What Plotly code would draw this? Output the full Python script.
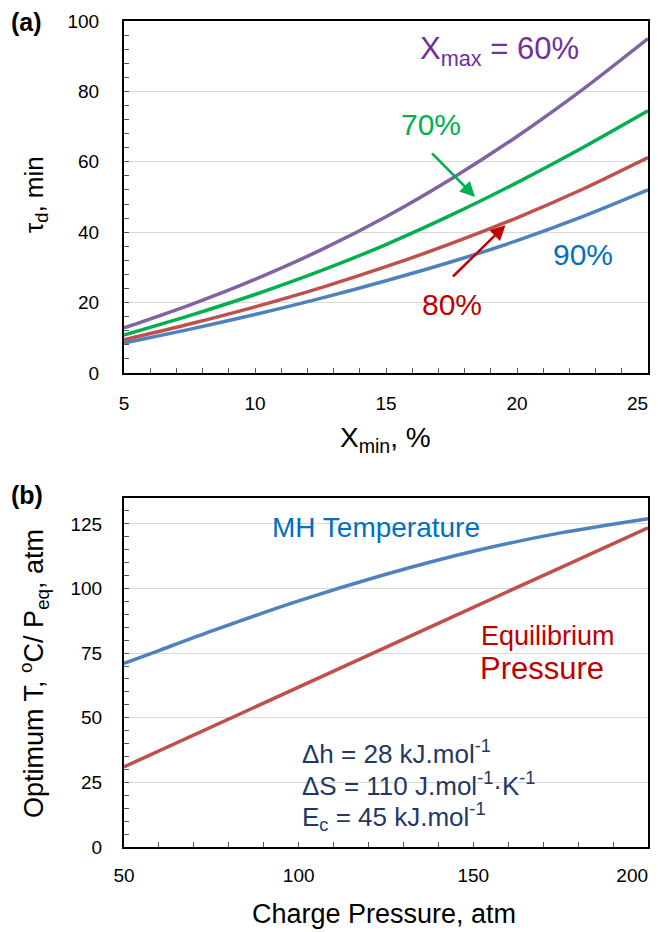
import plotly.graph_objects as go

# ---------------- data: panel (a) ----------------
xmin = [5, 7.5, 10, 12.5, 15, 17.5, 20, 22.5, 25]
tau_60 = [12.8, 19.3, 26.6, 34.9, 44.4, 55.2, 67.2, 80.5, 95.0]
tau_70 = [10.8, 16.3, 22.3, 29.0, 36.5, 44.9, 54.1, 64.0, 74.5]
tau_80 = [9.4, 13.9, 18.8, 24.2, 30.2, 36.8, 44.1, 52.2, 61.2]
tau_90 = [8.5, 12.4, 16.6, 21.2, 26.2, 31.6, 37.6, 44.4, 52.0]
a_yticks = [0, 20, 40, 60, 80, 100]
a_xticks = [5, 10, 15, 20, 25]

# ---------------- data: panel (b) ----------------
pressure = [50, 60, 75, 100, 125, 150, 175, 200]
mh_temp = [71.0, 76.0, 83.5, 95.2, 105.5, 114.4, 121.5, 127.0]
p_eq = [31.0, 37.2, 46.4, 61.8, 77.2, 92.7, 108.1, 123.5]
b_yticks = [0, 25, 50, 75, 100, 125]
b_xticks = [50, 100, 150, 200]

PURPLE, GREEN, RED, BLUE = "#8064A2", "#00B050", "#C0504D", "#4F81BD"
FONT = "Liberation Sans, Arial, sans-serif"
# the page body has an 8px default margin; the figure fills the rest of the 658x932 window
OFF = 8
W, H = 658 - OFF, 932 - OFF

def px(x):
    return (x - OFF) / W

def py(y):
    return 1 - (y - OFF) / H

def edge_labels(vals, pad):
    # last label nudged left (as in the original, where it is pulled inside the page)
    out = [str(v) for v in vals]
    out[-1] = out[-1] + "\u00a0" * pad
    return out

fig = go.Figure()
for y, c in [(tau_90, BLUE), (tau_80, RED), (tau_70, GREEN), (tau_60, PURPLE)]:
    fig.add_trace(go.Scatter(x=xmin, y=y, mode="lines", line=dict(color=c, width=3.5, shape="spline", smoothing=0.8),
                             xaxis="x", yaxis="y", showlegend=False, hoverinfo="skip"))
fig.add_trace(go.Scatter(x=pressure, y=p_eq, mode="lines", line=dict(color=RED, width=3.5),
                         xaxis="x2", yaxis="y2", showlegend=False, hoverinfo="skip"))
fig.add_trace(go.Scatter(x=pressure, y=mh_temp, mode="lines", line=dict(color=BLUE, width=3.5, shape="spline", smoothing=0.8),
                         xaxis="x2", yaxis="y2", showlegend=False, hoverinfo="skip"))

xdom = [px(124), px(648)]
ya_dom = [py(373), py(21)]
yb_dom = [py(847), py(498)]

common = dict(showline=True, linecolor="black", linewidth=2, mirror=True, ticks="inside", ticklen=5,
              tickcolor="#595959", tickfont=dict(family=FONT, size=19, color="black"), zeroline=False,
              automargin=False, ticklabeloverflow="allow")

fig.update_layout(
    width=W, height=H, margin=dict(l=0, r=0, t=0, b=0, autoexpand=False),
    paper_bgcolor="white", plot_bgcolor="white",
    font=dict(family=FONT, color="black"),
    xaxis=dict(domain=xdom, anchor="y", range=[5, 25], tickvals=a_xticks, ticktext=edge_labels(a_xticks, 4),
               showgrid=False, minor=dict(dtick=1, ticks="inside", ticklen=5, tickcolor="#595959"),
               ticklabelstandoff=12, **common),
    yaxis=dict(domain=ya_dom, anchor="x", range=[0, 100], tickvals=a_yticks, showgrid=True, gridcolor="#D9D9D9",
               minor=dict(dtick=4, ticks="inside", ticklen=5, tickcolor="#595959"),
               ticklabelstandoff=19, **common),
    xaxis2=dict(domain=xdom, anchor="y2", range=[50, 200], tickvals=b_xticks, ticktext=edge_labels(b_xticks, 6),
                showgrid=False, minor=dict(dtick=10, ticks="inside", ticklen=5, tickcolor="#595959"),
                ticklabelstandoff=10, **common),
    yaxis2=dict(domain=yb_dom, anchor="x2", range=[0, 135], tickvals=b_yticks, showgrid=True, gridcolor="#D9D9D9",
                minor=dict(dtick=5, ticks="inside", ticklen=5, tickcolor="#595959"),
                ticklabelstandoff=16, **common),
)

ann = []
def txt(x, y, s, color, size, xr="x", yr="y", bold=False, xanchor="center", angle=0):
    ann.append(dict(x=x, y=y, xref=xr, yref=yr, text=("<b>%s</b>" % s) if bold else s, showarrow=False,
                    font=dict(family=FONT, size=size, color=color), xanchor=xanchor, yanchor="middle",
                    textangle=angle))

# panel (a) labels
txt(19.35, 91.5, "X<sub>max</sub> = 60%", "#7030A0", 31)
txt(16.7, 70.5, "70%", GREEN, 30)
txt(17.5, 19.5, "80%", "#C00000", 30)
txt(22.5, 33.8, "90%", "#0070C0", 30)
ann.append(dict(x=18.4, y=50.0, ax=16.7, ay=62.8, xref="x", yref="y", axref="x", ayref="y", text="",
                showarrow=True, arrowhead=2, arrowsize=1.2, arrowwidth=2.5, arrowcolor=GREEN))
ann.append(dict(x=19.56, y=42.0, ax=17.5, ay=27.0, xref="x", yref="y", axref="x", ayref="y", text="",
                showarrow=True, arrowhead=2, arrowsize=1.2, arrowwidth=2.5, arrowcolor="#C00000"))

# panel (b) labels
txt(122, 123.5, "MH Temperature", "#0070C0", 28, "x2", "y2")
txt(171.3, 81.7, "Equilibrium", "#C00000", 27, "x2", "y2")
txt(169.6, 69.0, "Pressure", "#C00000", 31, "x2", "y2")
NAVY = "#1F3864"
txt(100.4, 36.5, "Δh = 28 kJ.mol<sup>-1</sup>", NAVY, 26, "x2", "y2", xanchor="left")
txt(100.4, 24.0, "ΔS = 110 J.mol<sup>-1</sup>·K<sup>-1</sup>", NAVY, 26, "x2", "y2", xanchor="left")
txt(100.4, 11.5, "E<sub>c</sub> = 45 kJ.mol<sup>-1</sup>", NAVY, 26, "x2", "y2", xanchor="left")

# axis titles (paper coordinates)
P = "paper"
txt(px(385), py(440), "X<sub>min</sub>, %", "black", 28, P, P)
txt(px(36), py(195), "τ<sub>d</sub>, min", "black", 26, P, P, angle=-90)
txt(px(384), py(914), "Charge Pressure, atm", "black", 27, P, P)
txt(px(34), py(674), "Optimum T, <sup>o</sup>C/ P<sub>eq</sub>, atm", "black", 27, P, P, angle=-90)

# panel tags
txt(px(26), py(22), "(a)", "black", 25, P, P, bold=True)
txt(px(27), py(495), "(b)", "black", 25, P, P, bold=True)

fig.update_layout(annotations=ann)
fig.write_html("out.html")
